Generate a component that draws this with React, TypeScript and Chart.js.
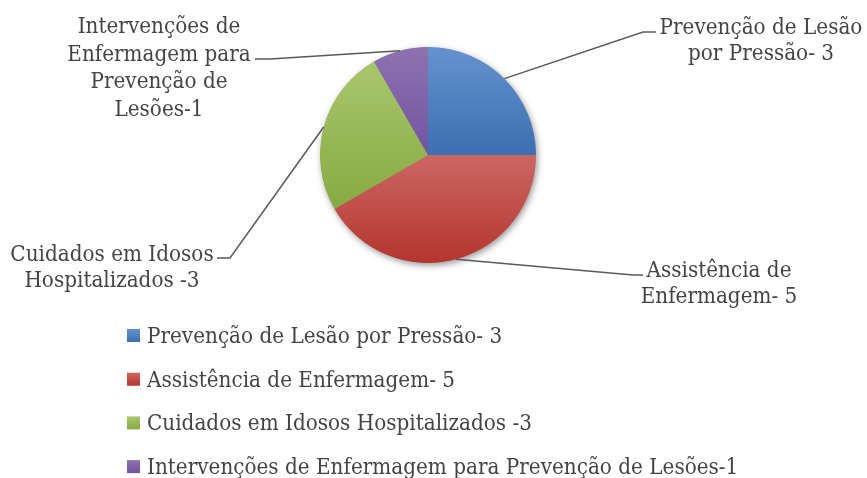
import React, { useEffect, useRef } from 'react';
import { Chart, registerables } from 'chart.js';

Chart.register(...registerables);

// ---- data ----
const categories = [
  'Prevenção de Lesão por Pressão- 3',
  'Assistência de Enfermagem- 5',
  'Cuidados em Idosos Hospitalizados -3',
  'Intervenções de Enfermagem para Prevenção de Lesões-1',
];
const values = [3, 5, 3, 1];
const labelLines = [
  ['Prevenção de Lesão', 'por Pressão- 3'],
  ['Assistência de', 'Enfermagem- 5'],
  ['Cuidados em Idosos', 'Hospitalizados -3'],
  ['Intervenções de', 'Enfermagem para', 'Prevenção de', 'Lesões-1'],
];

// ---- style ----
const colorsTop = ['#6592CE', '#CC6763', '#A9C66E', '#8D72B0'];
const colorsBottom = ['#3C6FB1', '#B5352F', '#88AA42', '#7353A0'];
const TEXT_COLOR = '#444444';
const LINE_COLOR = '#595959';
const FONT = "23px 'DejaVu Serif'";
const SCALE_X = 0.87;

// label placement relative to pie centre: elbow, end of horizontal, text centre x, first baseline y, line height
const labelPlace = [
  { ex: 215, ey: -123, hx: 228, tx: 333, ty: -121, lh: 26 },
  { ex: 205, ey: 120, hx: 215, tx: 291, ty: 122, lh: 26 },
  { ex: -198, ey: 103, hx: -211, tx: -316, ty: 106, lh: 25.5 },
  { ex: -158, ey: -96, hx: -173, tx: -269, ty: -122, lh: 27.7 },
];

function sliceYRange(cy: number, r: number, a0: number, a1: number) {
  const ys = [cy, cy + r * Math.sin(a0), cy + r * Math.sin(a1)];
  for (let k = -4; k <= 8; k++) {
    const a = (k * Math.PI) / 2;
    if (a > a0 && a < a1) ys.push(cy + r * Math.sin(a));
  }
  return [Math.min(...ys), Math.max(...ys)];
}

function drawScaledText(ctx: CanvasRenderingContext2D, text: string, x: number, y: number, align: CanvasTextAlign) {
  ctx.save();
  ctx.translate(x, y);
  ctx.scale(SCALE_X, 1);
  ctx.textAlign = align;
  ctx.textBaseline = 'alphabetic';
  ctx.fillText(text, 0, 0);
  ctx.restore();
}

const decorPlugin = {
  id: 'decor',
  beforeDatasetsDraw(chart: any) {
    const meta = chart.getDatasetMeta(0);
    const el = meta.data[0];
    if (!el) return;
    const { x, y, outerRadius } = el.getProps(['x', 'y', 'outerRadius'], true);
    const ctx = chart.ctx as CanvasRenderingContext2D;
    ctx.save();
    ctx.shadowColor = 'rgba(0,0,0,0.45)';
    ctx.shadowBlur = 7;
    ctx.shadowOffsetX = 1.5;
    ctx.shadowOffsetY = 2.5;
    ctx.fillStyle = '#888';
    ctx.beginPath();
    ctx.arc(x, y, outerRadius - 0.5, 0, Math.PI * 2);
    ctx.fill();
    ctx.restore();
  },
  afterDraw(chart: any) {
    const ctx = chart.ctx as CanvasRenderingContext2D;
    const meta = chart.getDatasetMeta(0);
    ctx.save();
    ctx.font = FONT;
    ctx.fillStyle = TEXT_COLOR;
    meta.data.forEach((el: any, i: number) => {
      const p = el.getProps(['x', 'y', 'startAngle', 'endAngle', 'outerRadius'], true);
      const mid = (p.startAngle + p.endAngle) / 2;
      const sx = p.x + Math.cos(mid) * p.outerRadius;
      const sy = p.y + Math.sin(mid) * p.outerRadius;
      const L = labelPlace[i];
      ctx.strokeStyle = LINE_COLOR;
      ctx.lineWidth = 1.5;
      ctx.beginPath();
      ctx.moveTo(sx, sy);
      ctx.lineTo(p.x + L.ex, p.y + L.ey);
      ctx.lineTo(p.x + L.hx, p.y + L.ey);
      ctx.stroke();
      labelLines[i].forEach((t, j) => {
        drawScaledText(ctx, t, p.x + L.tx, p.y + L.ty + j * L.lh, 'center');
      });
    });
    // legend
    const lx = 127;
    const ly0 = 343;
    const step = 43.7;
    const sq = 13;
    categories.forEach((c, i) => {
      const by = ly0 + i * step;
      const top = by - 14;
      const g = ctx.createLinearGradient(0, top, 0, top + sq);
      g.addColorStop(0, colorsTop[i]);
      g.addColorStop(1, colorsBottom[i]);
      ctx.fillStyle = g;
      ctx.fillRect(lx, top, sq, sq);
      ctx.fillStyle = TEXT_COLOR;
      drawScaledText(ctx, c, lx + 20, by, 'left');
    });
    ctx.restore();
  },
};

export default function App() {
  const ref = useRef<HTMLCanvasElement | null>(null);
  useEffect(() => {
    document.body.style.margin = '0';
    const canvas = ref.current;
    if (!canvas) return;
    const total = values.reduce((a, b) => a + b, 0);
    const chart = new Chart(canvas, {
      type: 'pie',
      data: {
        labels: categories,
        datasets: [
          {
            data: values,
            borderWidth: 0,
            backgroundColor: (c: any) => {
              const i = c.dataIndex;
              const ch = c.chart;
              const area = ch.chartArea;
              if (!area || i === undefined) return colorsTop[i ?? 0];
              const cx = (area.left + area.right) / 2;
              const cy = (area.top + area.bottom) / 2;
              const r = Math.min(area.right - area.left, area.bottom - area.top) / 2;
              let cum = 0;
              for (let k = 0; k < i; k++) cum += values[k];
              const a0 = -Math.PI / 2 + (cum / total) * Math.PI * 2;
              const a1 = a0 + (values[i] / total) * Math.PI * 2;
              const [y0, y1] = sliceYRange(cy, r, a0, a1);
              const g = ch.ctx.createLinearGradient(cx, y0, cx, y1);
              g.addColorStop(0, colorsTop[i]);
              g.addColorStop(1, colorsBottom[i]);
              return g;
            },
          },
        ],
      },
      options: {
        responsive: false,
        animation: false,
        layout: { padding: { left: 320, right: 331, top: 47, bottom: 215 } },
        plugins: {
          legend: { display: false },
          tooltip: { enabled: false },
        },
      },
      plugins: [decorPlugin],
    });
    return () => chart.destroy();
  }, []);
  return (
    <div style={{ position: 'absolute', left: 0, top: 0, width: 867, height: 478, background: '#fff' }}>
      <canvas ref={ref} width={867} height={478} />
    </div>
  );
}
